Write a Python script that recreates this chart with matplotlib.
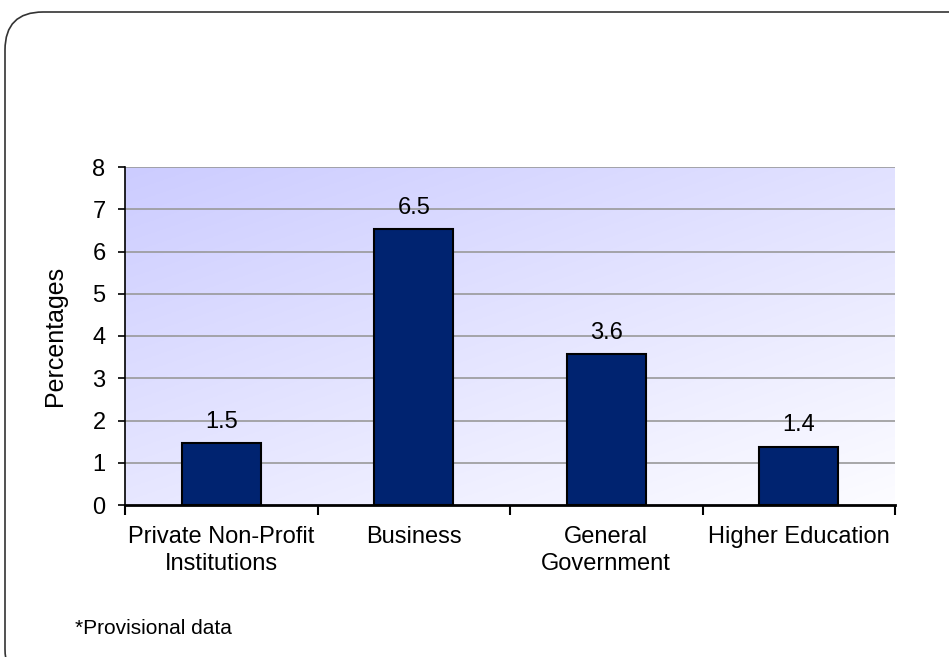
import matplotlib.pyplot as plt
import numpy as np
from matplotlib.patches import FancyBboxPatch

plt.rcParams['font.family'] = ['Liberation Sans', 'DejaVu Sans']

# data
categories = ['Private Non-Profit\nInstitutions', 'Business', 'General\nGovernment', 'Higher Education']
values = [1.46, 6.53, 3.57, 1.38]
yticks = [0, 1, 2, 3, 4, 5, 6, 7, 8]

W, H = 949, 657
fig = plt.figure(figsize=(W / 100, H / 100), dpi=100)

# rounded frame
frame = FancyBboxPatch((5 / W, -30 / H), 990 / W, (H - 12 + 30) / H,
                       boxstyle='round,pad=0,rounding_size=0.04',
                       transform=fig.transFigure, fill=False, edgecolor='#333333',
                       linewidth=1.2, mutation_aspect=W / H)
fig.patches.append(frame)

ax = fig.add_axes([125 / W, 1 - 505 / H, 770 / W, 338 / H])

# gradient background, lavender top-left to near white bottom-right
xx, yy = np.meshgrid(np.linspace(0, 1, 200), np.linspace(0, 1, 200))
t = np.clip((xx * 0.7 + yy * 0.9) / 1.6, 0, 1)
c0 = np.array([0.80, 0.80, 1.0])
c1 = np.array([0.99, 0.99, 1.0])
img = c0[None, None, :] * (1 - t[..., None]) + c1[None, None, :] * t[..., None]
ax.imshow(img, extent=[0, 1, 0, 1], transform=ax.transAxes, origin='upper',
          aspect='auto', zorder=0)

x = np.arange(len(categories))
ax.set_xlim(-0.5, len(categories) - 0.5)
ax.set_ylim(0, 8)

for yv in yticks[1:]:
    ax.axhline(yv, color='#999999', linewidth=1.2, zorder=1)

bars = ax.bar(x, values, width=0.41, color='#002370', edgecolor='black',
              linewidth=1.5, zorder=3)
for xi, v in zip(x, values):
    ax.text(xi, v + 0.25, '%.1f' % v, ha='center', va='bottom', fontsize=17, zorder=4)

ax.set_yticks(yticks)
ax.set_yticklabels([str(v) for v in yticks], fontsize=17)
ax.set_xticks(np.arange(len(categories) + 1) - 0.5)
ax.set_xticklabels([])
ax.set_xticks(x, minor=True)
ax.set_xticklabels(categories, minor=True, fontsize=17, linespacing=1.3)
ax.tick_params(axis='x', which='minor', length=0, pad=15)
ax.tick_params(axis='x', which='major', length=7, width=1.5, direction='out')
ax.tick_params(axis='y', length=5, width=1.2, pad=9)

for s in ['top', 'right']:
    ax.spines[s].set_visible(False)
ax.spines['left'].set_linewidth(1.2)
ax.spines['bottom'].set_linewidth(2)

ax.set_ylabel('Percentages', fontsize=18, labelpad=18)

fig.text(75 / W, 1 - 628 / H, '*Provisional data', fontsize=15, va='center', ha='left')

fig.savefig('out.png', dpi=100)
